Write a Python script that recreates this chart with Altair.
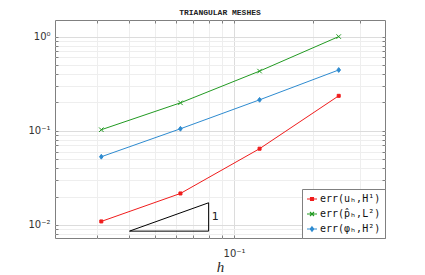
import altair as alt
import pandas as pd

# ---- data ----
h = [0.03125, 0.0625, 0.125, 0.25]
err_u = [0.0109, 0.0216, 0.0645, 0.235]
err_p = [0.1026, 0.198, 0.43, 1.0]
err_phi = [0.053, 0.105, 0.213, 0.442]
series = ["err(uₕ,H¹)", "err(p̂ₕ,L²)", "err(φₕ,H²)"]
colors = ["#f01c1c", "#229a22", "#2e8bd0"]

tri_h = [0.04, 0.08, 0.08, 0.04]
tri_e = [0.0086, 0.0086, 0.0172, 0.0086]
slope_label = ["1"]
slope_h = [0.08]
slope_e = [0.0122]

x_domain = [0.02083, 0.375]
y_domain = [0.00727, 1.5]
x_grid = [0.03, 0.04, 0.05, 0.06, 0.07, 0.08, 0.09, 0.1, 0.2, 0.3]
y_grid = [0.008, 0.009, 0.01, 0.02, 0.03, 0.04, 0.05, 0.06, 0.07, 0.08, 0.09,
          0.1, 0.2, 0.3, 0.4, 0.5, 0.6, 0.7, 0.8, 0.9, 1.0]

rows = []
for s, vals in zip(series, [err_u, err_p, err_phi]):
    for i, (hv, ev) in enumerate(zip(h, vals)):
        rows.append({"series": s, "h": hv, "err": ev, "i": i})
df = pd.DataFrame(rows)
tri = pd.DataFrame({"h": tri_h, "e": tri_e, "o": list(range(len(tri_h)))})
lab = pd.DataFrame({"t": slope_label, "h": slope_h, "e": slope_e})

xs = alt.Scale(type="log", domain=x_domain, nice=False)
ys = alt.Scale(type="log", domain=y_domain, nice=False)
cs = alt.Scale(domain=series, range=colors)

AX = "#808080"
grid_color = {"condition": {"test": "datum.value == 0.01 || datum.value == 0.1 || datum.value == 1",
                            "value": "#dcdcdc"}, "value": "#eeeeee"}

x_main = alt.Axis(orient="bottom", values=x_grid, grid=True, gridColor=grid_color,
                  ticks=False, domain=False, labelExpr="datum.value == 0.1 ? '10⁻¹' : ''",
                  labelFont="DejaVu Sans", labelFontSize=10, labelColor="#333333",
                  labelPadding=10, title="h", titleFont="Liberation Serif",
                  titleFontStyle="italic", titleFontWeight="normal", titleFontSize=15,
                  titleColor="#262626", titlePadding=1)
y_main = alt.Axis(orient="left", values=y_grid, grid=True, gridColor=grid_color,
                  ticks=False, domain=False,
                  labelExpr="datum.value == 1 ? '10⁰' : datum.value == 0.1 ? '10⁻¹' : datum.value == 0.01 ? '10⁻²' : ''",
                  labelFont="DejaVu Sans", labelFontSize=10, labelColor="#333333",
                  labelPadding=5, title=None)


def tick_axis(orient, vals):
    return alt.Axis(orient=orient, values=vals, grid=False, labels=False, domain=False,
                    ticks=True, tickSize=3, tickColor=AX, offset=-3, title=None)


lines = alt.Chart(df).mark_line(strokeWidth=1).encode(
    x=alt.X("h:Q", scale=xs, axis=x_main),
    y=alt.Y("err:Q", scale=ys, axis=y_main),
    color=alt.Color("series:N", scale=cs, legend=None),
    order="i:Q",
)

marker_paths = ["M-1,-1H1V1H-1Z", "M-1.5,-1.5L1.5,1.5M-1.5,1.5L1.5,-1.5", "M0,-1.6L1.2,0L0,1.6L-1.2,0Z"]
points = alt.Chart(df).mark_point(filled=True, strokeWidth=1, size=9, opacity=1).encode(
    x=alt.X("h:Q", scale=xs, axis=tick_axis("top", x_grid)),
    y=alt.Y("err:Q", scale=ys, axis=tick_axis("right", y_grid)),
    color=alt.Color("series:N", scale=cs, legend=None),
    stroke=alt.Stroke("series:N", scale=cs, legend=None),
    shape=alt.Shape("series:N", scale=alt.Scale(domain=series, range=marker_paths), legend=None),
)

legend_paths = ["M-1,0H1M-0.3,-0.3H0.3V0.3H-0.3Z",
                "M-1,0H1M-0.4,-0.4L0.4,0.4M-0.4,0.4L0.4,-0.4",
                "M-1,0H1M0,-0.45L0.35,0L0,0.45L-0.35,0Z"]
leg = alt.Legend(title=None, orient="bottom-right", offset=0, padding=4,
                 strokeColor=AX, fillColor="white", labelFont="DejaVu Sans Mono",
                 labelFontSize=10, labelColor="#111111", symbolSize=100,
                 symbolStrokeWidth=1.1, symbolOpacity=1, rowPadding=4, labelOffset=2,
                 cornerRadius=0)
legend_layer = alt.Chart(df).mark_point(filled=True, opacity=0, strokeWidth=1.1).encode(
    x=alt.X("h:Q", scale=xs, axis=None),
    y=alt.Y("err:Q", scale=ys, axis=None),
    color=alt.Color("series:N", scale=cs, legend=leg),
    stroke=alt.Stroke("series:N", scale=cs, legend=leg),
    shape=alt.Shape("series:N", scale=alt.Scale(domain=series, range=legend_paths), legend=leg),
)

triangle = alt.Chart(tri).mark_line(color="black", strokeWidth=1).encode(
    x=alt.X("h:Q", scale=xs, axis=tick_axis("bottom", x_grid)),
    y=alt.Y("e:Q", scale=ys, axis=tick_axis("left", y_grid)),
    order="o:Q",
)

slope_text = alt.Chart(lab).mark_text(align="left", baseline="middle", dx=3,
                                      font="DejaVu Sans", fontSize=11, color="#222222").encode(
    x=alt.X("h:Q", scale=xs, axis=None),
    y=alt.Y("e:Q", scale=ys, axis=None),
    text="t:N",
)

chart = alt.layer(lines, points, triangle, slope_text, legend_layer).resolve_axis(
    x="independent", y="independent"
).resolve_scale(
    color="independent", shape="independent", stroke="independent"
).properties(
    width=330, height=218,
    title=alt.TitleParams("TRIANGULAR MESHES", font="Liberation Mono", fontSize=8,
                          fontWeight="bold", color="#222222", offset=3, frame="group"),
    autosize=alt.AutoSizeParams(type="none"),
    padding={"left": 47, "top": 12, "right": 30, "bottom": 50},
).configure_view(stroke=AX, strokeWidth=1)

chart.save("out.html", embed_options={"renderer": "svg", "actions": False})
